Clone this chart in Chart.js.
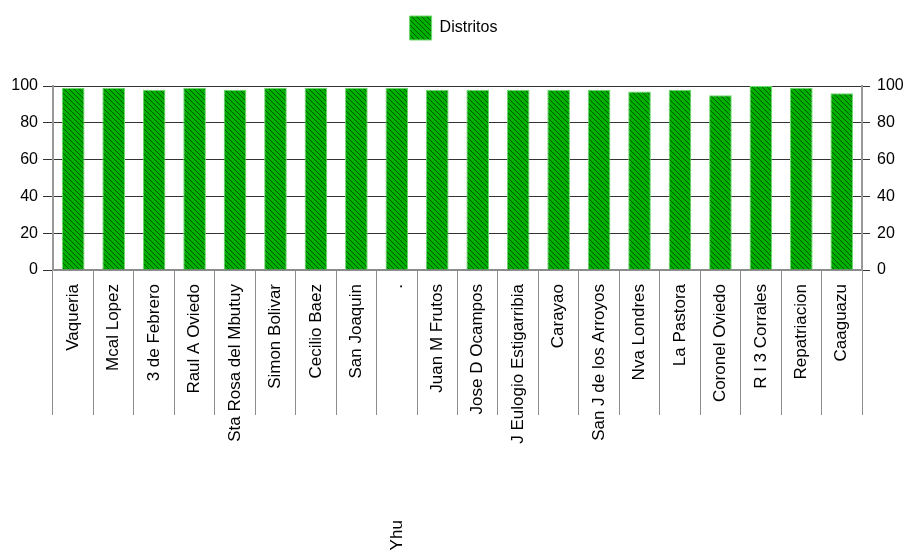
<!DOCTYPE html>
<html>
<head>
<meta charset="utf-8">
<script src="https://cdn.jsdelivr.net/npm/chart.js@4.4.1/dist/chart.umd.min.js"></script>
<style>
  html, body { margin: 0; padding: 0; background: #fff; }
  #wrap { width: 907px; height: 552px; }
</style>
</head>
<body>
<div id="wrap"><canvas id="chart"></canvas></div>
<script>
// --- data ---
const distritos = [
  'Vaqueria', 'Mcal Lopez', '3 de Febrero', 'Raul A Oviedo', 'Sta Rosa del Mbutuy',
  'Simon Bolivar', 'Cecilio Baez', 'San Joaquin',
  'Yhu' + ' '.repeat(49) + '.',
  'Juan M Frutos', 'Jose D Ocampos', 'J Eulogio Estigarribia', 'Carayao',
  'San J de los Arroyos', 'Nva Londres', 'La Pastora', 'Coronel Oviedo',
  'R I 3 Corrales', 'Repatriacion', 'Caaguazu'
];
const valores = [99, 99, 98, 99, 98, 99, 99, 99, 99, 98, 98, 98, 98, 98, 97, 98, 95, 100, 99, 96];
const yTicks = [0, 20, 40, 60, 80, 100];

// diagonal hatch fill like the original
function hatch() {
  const c = document.createElement('canvas');
  c.width = 5; c.height = 5;
  const g = c.getContext('2d');
  g.fillStyle = '#00b000';
  g.fillRect(0, 0, 5, 5);
  g.fillStyle = '#005800';
  for (let i = 0; i < 5; i++) g.fillRect(i, i, 1, 1);
  return g.createPattern(c, 'repeat');
}

const fontFam = '"Liberation Sans", Arial, sans-serif';
const setTicks = scale => { scale.ticks = yTicks.map(v => ({ value: v })); };

// push the plot down below the legend
const legendGap = {
  id: 'legendGap',
  beforeInit(chart) {
    const fit = chart.legend.fit;
    chart.legend.fit = function () {
      fit.bind(chart.legend)();
      this.height += 36;
    };
  }
};

new Chart(document.getElementById('chart'), {
  type: 'bar',
  data: {
    labels: distritos,
    datasets: [{
      label: 'Distritos',
      data: valores,
      backgroundColor: hatch(),
      borderColor: '#6ed86e',
      borderWidth: 1,
      categoryPercentage: 1,
      barPercentage: 0.56,
      yAxisID: 'y'
    }]
  },
  plugins: [legendGap],
  options: {
    responsive: true,
    maintainAspectRatio: false,
    animation: false,
    layout: { padding: { top: 6, left: 0, right: 0, bottom: 0 } },
    plugins: {
      legend: {
        position: 'top',
        labels: {
          color: '#000',
          boxWidth: 22,
          boxHeight: 24,
          padding: 10,
          font: { family: fontFam, size: 16 }
        }
      },
      tooltip: { enabled: false }
    },
    scales: {
      x: {
        grid: {
          offset: true,
          drawOnChartArea: false,
          drawTicks: true,
          tickLength: 145,
          color: '#8c8c8c'
        },
        border: { color: '#8c8c8c', width: 2 },
        ticks: {
          color: '#000',
          autoSkip: false,
          minRotation: 90,
          maxRotation: 90,
          padding: -131,
          font: { family: fontFam, size: 17 }
        },
        afterFit: s => { s.height = 282; }
      },
      y: {
        position: 'left',
        min: 0, max: 100,
        afterBuildTicks: setTicks,
        grid: { color: '#333', tickLength: 10, lineWidth: 1 },
        border: { color: '#999', width: 2 },
        ticks: { color: '#000', padding: 5, font: { family: fontFam, size: 16 } },
        afterFit: s => { s.width = 53; }
      },
      y2: {
        position: 'right',
        min: 0, max: 100,
        afterBuildTicks: setTicks,
        grid: { drawOnChartArea: false, color: '#333', tickLength: 8 },
        border: { color: '#999', width: 2 },
        ticks: { color: '#000', padding: 7, font: { family: fontFam, size: 16 } },
        afterFit: s => { s.width = 45; }
      }
    }
  }
});
</script>
</body>
</html>
